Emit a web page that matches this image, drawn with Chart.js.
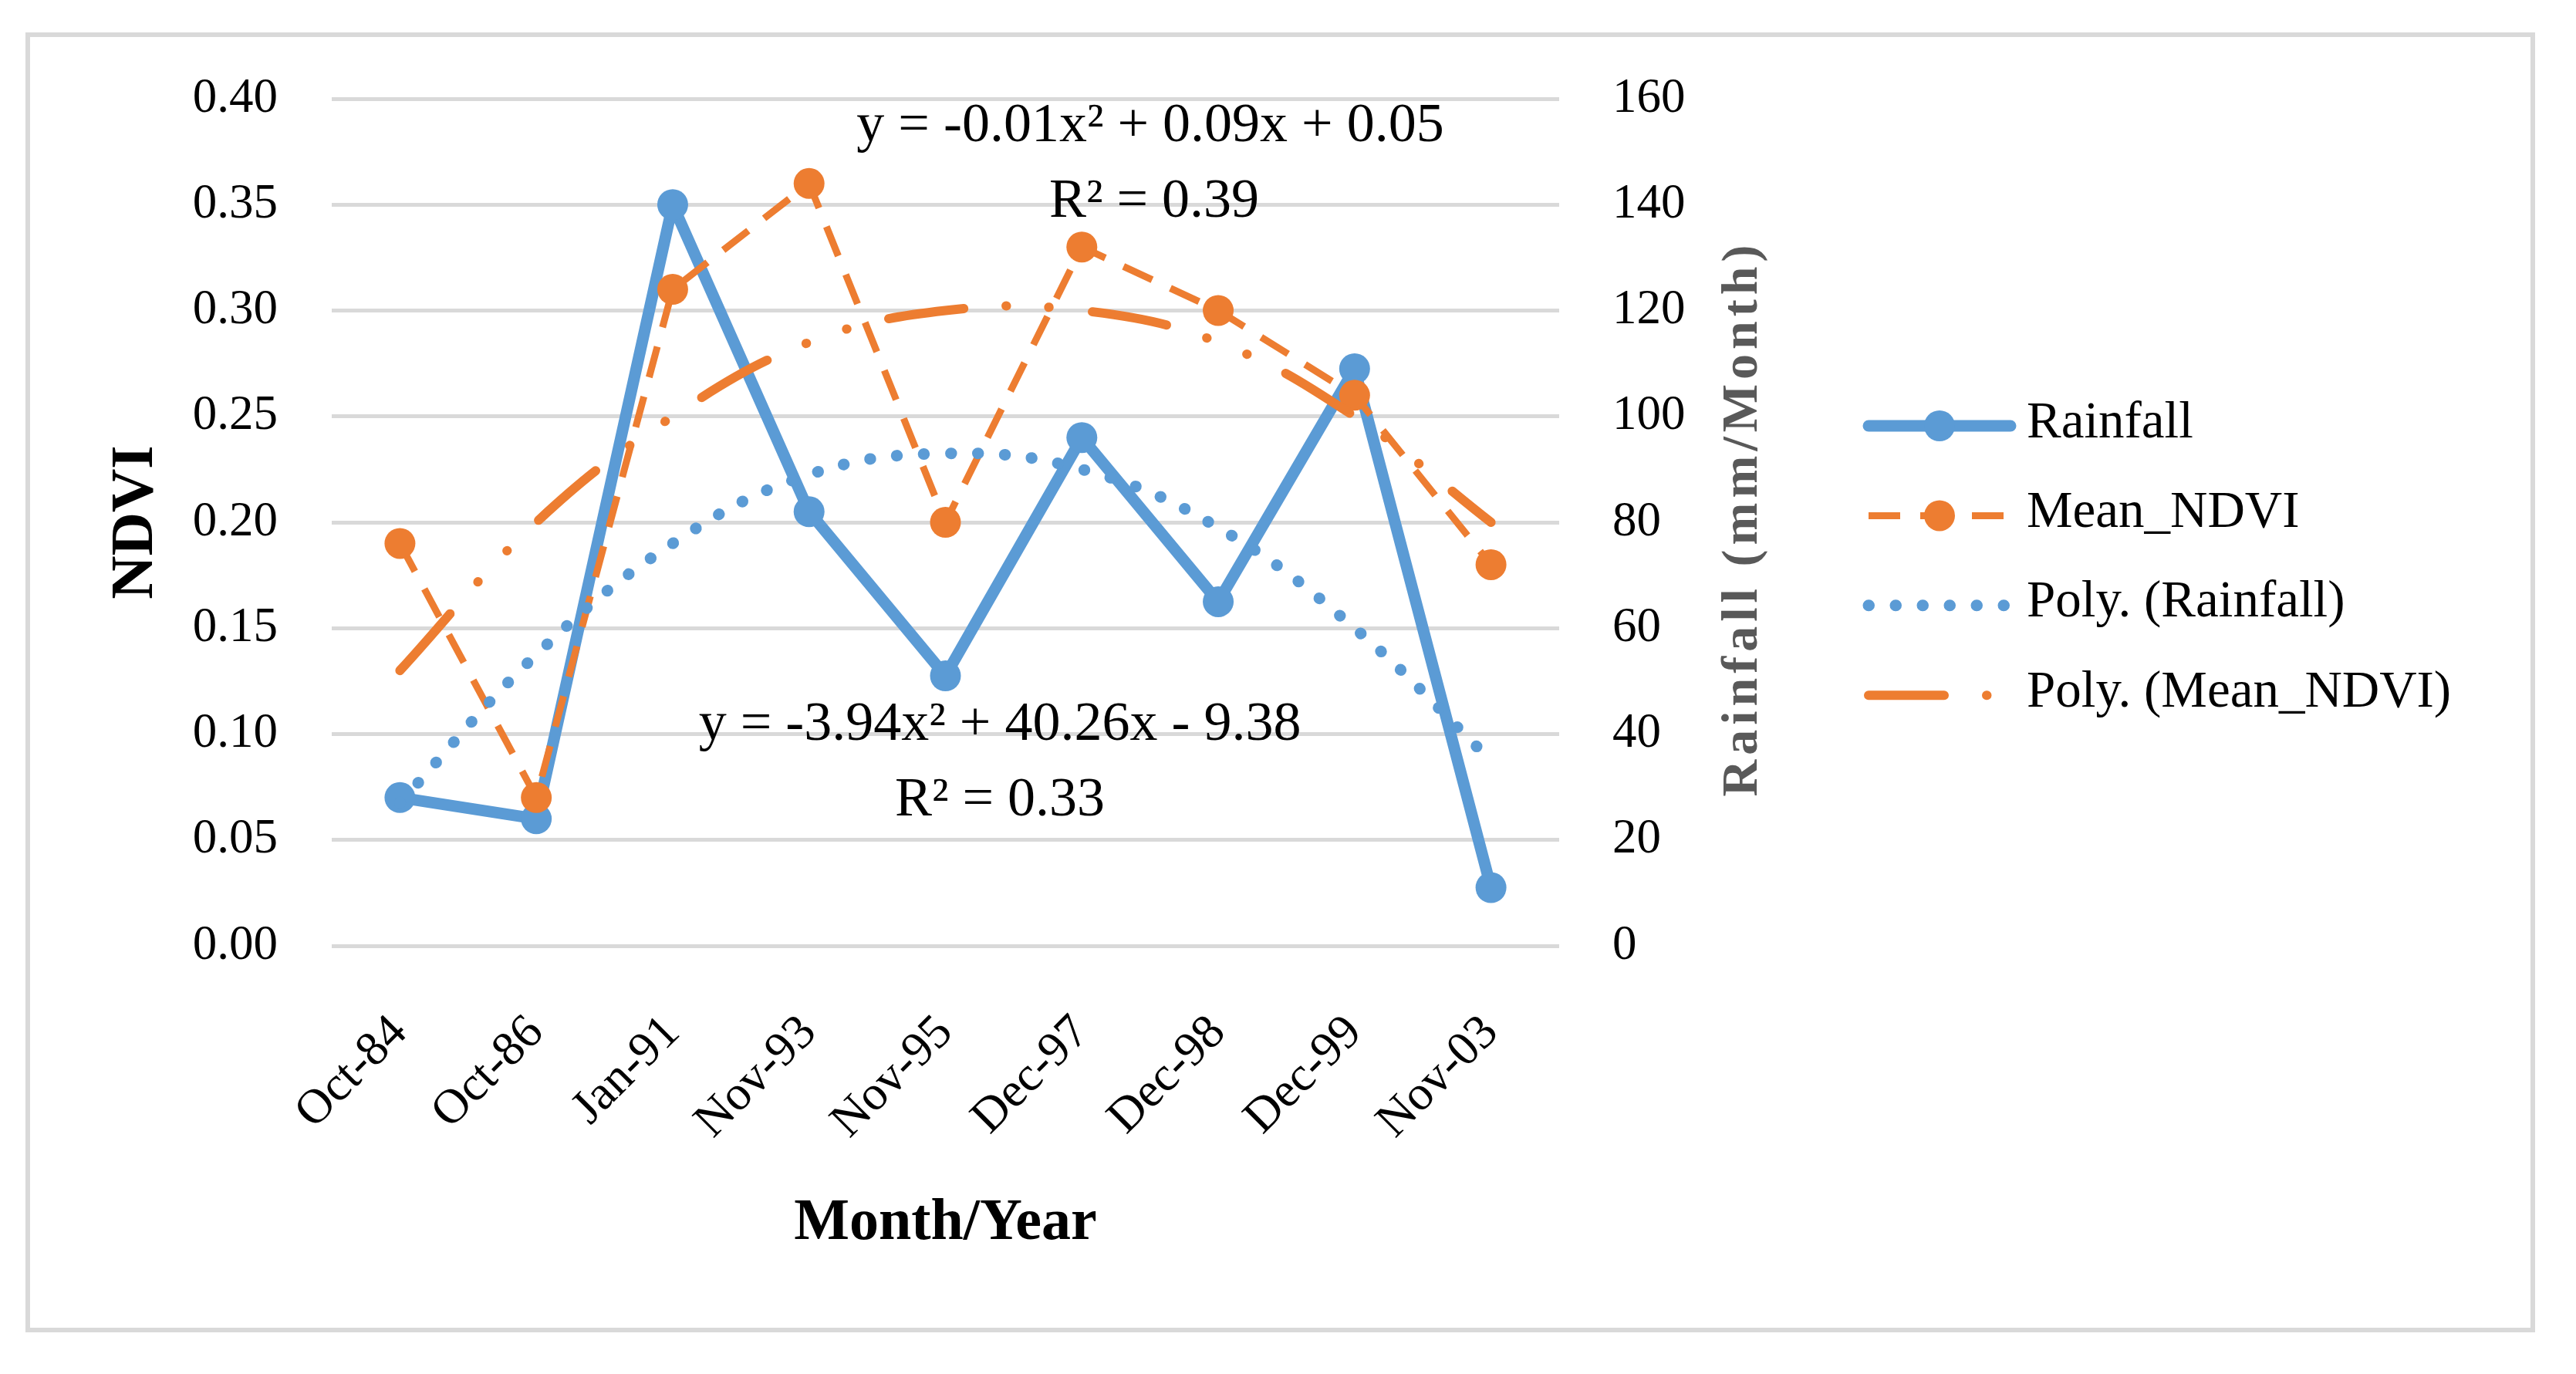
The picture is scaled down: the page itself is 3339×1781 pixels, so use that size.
<!DOCTYPE html>
<html>
<head>
<meta charset="utf-8">
<script src="https://cdn.jsdelivr.net/npm/chart.js@4.4.1/dist/chart.umd.min.js"></script>
<style>
  html, body { margin: 0; padding: 0; background: #fff; }
  canvas { display: block; }
</style>
</head>
<body>
<canvas id="myChart" width="3339" height="1781"></canvas>
<script>
// values
const months = ['Oct-84', 'Oct-86', 'Jan-91', 'Nov-93', 'Nov-95', 'Dec-97', 'Dec-98', 'Dec-99', 'Nov-03'];
const rainfall = [28, 24, 140, 82, 51, 96, 65, 109, 11];
const meanNdvi = [0.19, 0.07, 0.31, 0.36, 0.20, 0.33, 0.30, 0.26, 0.18];
const polyRainfall = [27, 55, 76, 89, 93, 90, 79, 60, 35];
const polyNdvi = [0.13, 0.20, 0.25, 0.285, 0.30, 0.30, 0.285, 0.25, 0.20];
const ndviTicks = [0, 0.05, 0.10, 0.15, 0.20, 0.25, 0.30, 0.35, 0.40];
const rainTicks = [0, 20, 40, 60, 80, 100, 120, 140, 160];
const trendNotes = [
  {text: 'y = -0.01x\u00b2 + 0.09x + 0.05', x: 1491, y: 164},
  {text: 'R\u00b2 = 0.39', x: 1496, y: 262},
  {text: 'y = -3.94x\u00b2 + 40.26x - 9.38', x: 1296, y: 940},
  {text: 'R\u00b2 = 0.33', x: 1296, y: 1038},
];

const BLUE = '#5B9BD5';
const ORANGE = '#ED7D31';
const SERIF = '"Liberation Serif", "Times New Roman", serif';

const framePlugin = {
  id: 'frame',
  beforeDraw(chart) {
    const ctx = chart.ctx;
    ctx.save();
    ctx.strokeStyle = '#d9d9d9';
    ctx.lineWidth = 6;
    ctx.strokeRect(36, 45, 3247, 1679);
    ctx.restore();
  }
};

const extrasPlugin = {
  id: 'extras',
  afterDraw(chart) {
    const ctx = chart.ctx;
    // trendline equations
    ctx.save();
    ctx.fillStyle = '#000';
    ctx.font = '72px ' + SERIF;
    ctx.textAlign = 'center';
    ctx.textBaseline = 'middle';
    trendNotes.forEach((n) => ctx.fillText(n.text, n.x, n.y));
    ctx.restore();

    // right axis title, reading bottom to top
    ctx.save();
    ctx.translate(2260, 672);
    ctx.rotate(-Math.PI / 2);
    ctx.fillStyle = '#595959';
    ctx.font = 'bold 66px ' + SERIF;
    ctx.letterSpacing = '6px';
    ctx.textAlign = 'center';
    ctx.textBaseline = 'middle';
    ctx.fillText('Rainfall (mm/Month)', 0, 0);
    ctx.restore();

    // legend, drawn like the Excel one (line sample + marker)
    const x0 = 2422, x1 = 2606;
    chart.data.datasets.forEach((ds, i) => {
      const y = 552 + i * 116.4;
      ctx.save();
      ctx.strokeStyle = ds.borderColor;
      ctx.lineWidth = ds.borderWidth;
      ctx.lineCap = ds.borderCapStyle || 'butt';
      ctx.setLineDash(ds.borderDash || []);
      ctx.beginPath();
      ctx.moveTo(x0, y);
      ctx.lineTo(x1, y);
      ctx.stroke();
      if (ds.pointRadius > 0) {
        ctx.setLineDash([]);
        ctx.fillStyle = ds.pointBackgroundColor;
        ctx.beginPath();
        ctx.arc((x0 + x1) / 2, y, ds.pointRadius, 0, 2 * Math.PI);
        ctx.fill();
      }
      ctx.fillStyle = '#000';
      ctx.font = '67px ' + SERIF;
      ctx.textBaseline = 'middle';
      ctx.textAlign = 'left';
      ctx.fillText(ds.label, 2627, y - 3);
      ctx.restore();
    });
  }
};

const data = {
  labels: months,
  datasets: [
    {
      label: 'Rainfall', data: rainfall, yAxisID: 'y1', order: 3,
      borderColor: BLUE, borderWidth: 15, borderCapStyle: 'round', borderJoinStyle: 'round',
      pointRadius: 20, pointBackgroundColor: BLUE, pointBorderWidth: 0, pointHoverRadius: 20,
      tension: 0
    },
    {
      label: 'Mean_NDVI', data: meanNdvi, yAxisID: 'y', order: 2,
      borderColor: ORANGE, borderWidth: 9, borderDash: [41, 26],
      pointRadius: 20, pointBackgroundColor: ORANGE, pointBorderWidth: 0, pointHoverRadius: 20,
      tension: 0
    },
    {
      label: 'Poly. (Rainfall)', data: polyRainfall, yAxisID: 'y1', order: 1,
      borderColor: BLUE, borderWidth: 15, borderCapStyle: 'round', borderDash: [0.5, 34.5],
      pointRadius: 0, pointHoverRadius: 0, tension: 0.4
    },
    {
      label: 'Poly. (Mean_NDVI)', data: polyNdvi, yAxisID: 'y', order: 0,
      borderColor: ORANGE, borderWidth: 12, borderCapStyle: 'round',
      borderDash: [98, 55, 0.5, 55, 0.5, 56],
      pointRadius: 0, pointHoverRadius: 0, tension: 0.4
    },
  ]
};

const config = {
  type: 'line',
  data: data,
  options: {
    responsive: false,
    animation: false,
    devicePixelRatio: 1,
    events: [],
    layout: {padding: {left: 130, top: 128, right: 1118, bottom: 149}},
    plugins: {legend: {display: false}, tooltip: {enabled: false}},
    scales: {
      x: {
        offset: true,
        grid: {display: false, drawTicks: false},
        border: {display: false},
        ticks: {
          autoSkip: false, minRotation: 45, maxRotation: 45, padding: 76,
          color: '#000', font: {family: SERIF, size: 63}
        },
        title: {
          display: true, text: 'Month/Year', color: '#000', padding: 0,
          font: {family: SERIF, size: 76, weight: 'bold'}
        },
        afterFit: (scale) => { scale.height = 406; }
      },
      y: {
        position: 'left', min: 0, max: 0.4,
        afterBuildTicks: (scale) => { scale.ticks = ndviTicks.map((v) => ({value: v})); },
        grid: {color: '#d9d9d9', lineWidth: 5, drawTicks: false},
        border: {display: false},
        ticks: {
          padding: 70, color: '#000', font: {family: SERIF, size: 63},
          callback: (v) => Number(v).toFixed(2)
        },
        title: {
          display: true, text: 'NDVI', color: '#000', padding: 0,
          font: {family: SERIF, size: 78, weight: 'bold'}
        },
        afterFit: (scale) => { scale.width = 300; }
      },
      y1: {
        position: 'right', min: 0, max: 160,
        afterBuildTicks: (scale) => { scale.ticks = rainTicks.map((v) => ({value: v})); },
        grid: {display: false, drawTicks: false},
        border: {display: false},
        ticks: {padding: 69, color: '#000', font: {family: SERIF, size: 63}},
        afterFit: (scale) => { scale.width = 200; }
      }
    }
  },
  plugins: [framePlugin, extrasPlugin]
};

const ctx = document.getElementById('myChart');
const chart = new Chart(ctx, config);
</script>
</body>
</html>
